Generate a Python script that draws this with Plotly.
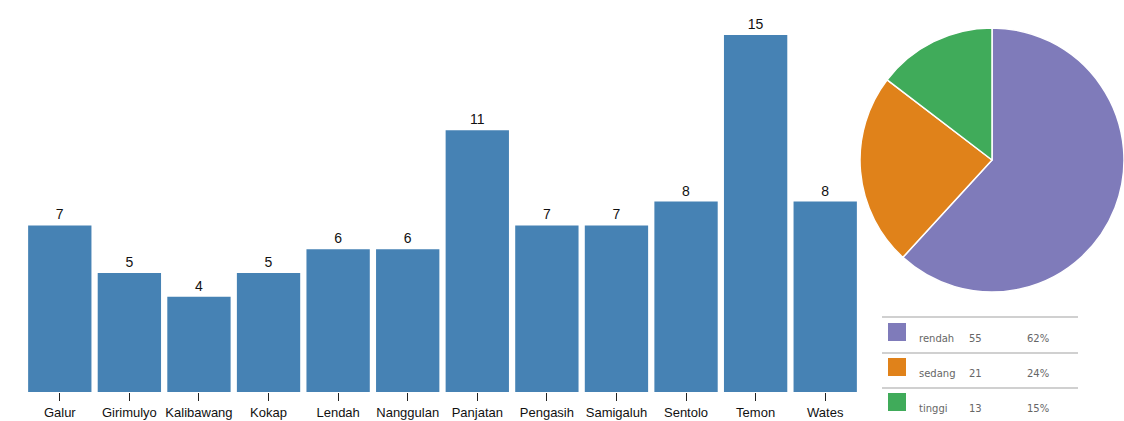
import plotly.graph_objects as go

categories = ["Galur", "Girimulyo", "Kalibawang", "Kokap", "Lendah", "Nanggulan",
              "Panjatan", "Pengasih", "Samigaluh", "Sentolo", "Temon", "Wates"]
counts = [7, 5, 4, 5, 6, 6, 11, 7, 7, 8, 15, 8]

pie_labels = ["rendah", "sedang", "tinggi"]
pie_values = [55, 21, 13]
pie_colors = ["#7f7bba", "#e0821a", "#40ab5a"]

W, H = 1124, 421

fig = go.Figure()
fig.add_trace(go.Bar(
    x=categories, y=counts, marker=dict(color="#4682b4", line=dict(width=0)),
    text=[str(v) for v in counts], textposition="outside",
    textfont=dict(family="Arial", size=14, color="#111"),
    cliponaxis=False, showlegend=False, hoverinfo="x+y",
))
fig.add_trace(go.Pie(
    labels=pie_labels, values=pie_values, sort=False, direction="clockwise",
    marker=dict(colors=pie_colors, line=dict(color="white", width=1.5)),
    textinfo="none", showlegend=False,
    domain=dict(x=[860 / W, 1.0], y=[1 - 293 / H, 1 - 27 / H]),
))

fig.update_layout(
    width=W, height=H, margin=dict(l=0, r=0, t=0, b=0),
    paper_bgcolor="white", plot_bgcolor="white",
    bargap=0.09,
    xaxis=dict(domain=[25 / W, 860 / W], showgrid=False, showline=False, zeroline=False,
               ticks="outside", ticklen=8, tickwidth=1, tickcolor="#222",
               tickfont=dict(family="Arial", size=13, color="#111")),
    yaxis=dict(domain=[1 - 392 / H, 1 - 35 / H], range=[0, 15], visible=False),
)

# legend table
total = sum(pie_values)
line_ys = [317, 353, 388]
for ly in line_ys:
    fig.add_shape(type="line", xref="paper", yref="paper",
                  x0=882 / W, x1=1078 / W, y0=1 - ly / H, y1=1 - ly / H,
                  line=dict(color="#d0d0d0", width=2))
row_tops = [323, 358, 393]
for i, (lab, val, col) in enumerate(zip(pie_labels, pie_values, pie_colors)):
    top = row_tops[i]
    fig.add_shape(type="rect", xref="paper", yref="paper",
                  x0=888 / W, x1=906 / W, y0=1 - (top + 18) / H, y1=1 - top / H,
                  fillcolor=col, line=dict(width=0))
    yc = 1 - (top + 15) / H
    pct = f"{round(val / total * 100)}%"
    for txt, xpx in [(lab, 917), (str(val), 967), (pct, 1025)]:
        fig.add_annotation(xref="paper", yref="paper", x=xpx / W, y=yc,
                           text=txt, showarrow=False, xanchor="left", yanchor="middle",
                           font=dict(family="DejaVu Sans", size=10, color="#666"))

fig.write_html("out.html")
